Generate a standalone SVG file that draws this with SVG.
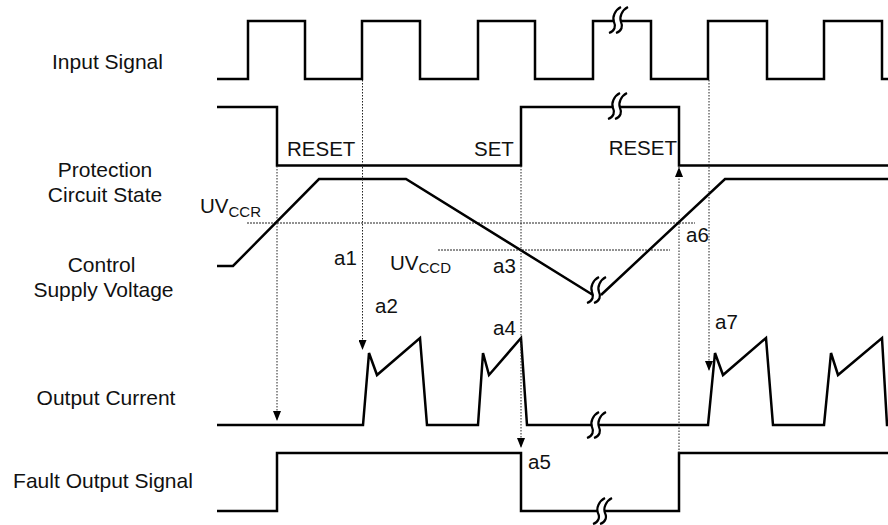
<svg xmlns="http://www.w3.org/2000/svg" xmlns:xlink="http://www.w3.org/1999/xlink" width="888" height="525" viewBox="0 0 888 525">
<style>
.wave{fill:none;stroke:#000;stroke-width:2.5;stroke-linejoin:miter}
.lbl{font-family:"Liberation Sans",Arial,sans-serif;font-size:20.5px;fill:#111}
.side{font-size:21px}
.mid{text-anchor:middle}
.sub{font-size:15px}
.dot{fill:none;stroke:#222;stroke-width:1;stroke-dasharray:1.5 1.5}
.thr{fill:none;stroke:#222;stroke-width:1;stroke-dasharray:2 1}
.brk{fill:none;stroke:#000;stroke-width:2.2}
</style>
<defs>
<marker id="ah" viewBox="0 0 10 8" refX="10" refY="4" markerWidth="10" markerHeight="8" markerUnits="userSpaceOnUse" orient="auto">
<path d="M0,0 L10,4 L0,8 Z" fill="#000"/>
</marker>
<g id="brk">
<path d="M-10,13 C-4,11 -3,6 -5,2 C-7,-3 -4,-10 2,-13 L9,-13 C3,-10 0,-3 2,2 C4,6 3,11 -3,13 Z" fill="#fff"/>
<path class="brk" d="M-10,13 C-4,11 -3,6 -5,2 C-7,-3 -4,-10 2,-13"/>
<path class="brk" d="M-3,13 C3,11 4,6 2,2 C0,-3 3,-10 9,-13"/>
</g>
</defs>
<rect width="888" height="525" fill="#fff"/>

<g id="labels">
<text class="lbl side mid" x="107.5" y="69">Input Signal</text>
<text class="lbl side mid" x="105" y="177">Protection</text>
<text class="lbl side mid" x="105" y="202">Circuit State</text>
<text class="lbl side mid" x="101.5" y="272">Control</text>
<text class="lbl side mid" x="103.5" y="297">Supply Voltage</text>
<text class="lbl side mid" x="106" y="405">Output Current</text>
<text class="lbl side mid" x="103" y="488">Fault Output Signal</text>
</g>

<g id="input-signal">
<path class="wave" d="M217,79 H248 V21 H305 V79 H362 V21 H420 V79 H478 V21 H535 V79 H593 V21 H651 V79 H708 V21 H767 V79 H824 V21 H882 V79 H888"/>
<use xlink:href="#brk" href="#brk" x="619" y="20"/>
</g>

<g id="protection-state">
<path class="wave" d="M217,107 H277 V165.5 H521 V107 H679 V165.5 H888"/>
<use xlink:href="#brk" href="#brk" x="618" y="106"/>
<text class="lbl" x="287" y="156">RESET</text>
<text class="lbl" x="474" y="156">SET</text>
<text class="lbl" x="677" y="155" text-anchor="end">RESET</text>
</g>

<g id="thresholds">
<path class="thr" d="M247,223 H695"/>
<path class="thr" d="M438,250 H670"/>
<text class="lbl" x="200" y="213">UV<tspan class="sub" dy="4">CCR</tspan></text>
<text class="lbl" x="390" y="270">UV<tspan class="sub" dy="3">CCD</tspan></text>
</g>

<g id="control-supply-voltage">
<path class="wave" d="M217,266 H233 L319,179 H406 L593,295"/>
<path class="wave" d="M601,295 L725,179 H888"/>
<use xlink:href="#brk" href="#brk" x="597" y="290"/>
</g>

<g id="output-current">
<path class="wave" d="M217,425 H363 L369,353 L377,375 L420,338 L427,425 H478 L483,353 L489,375 L521,338 L527,425 H708 L715,353 L723,375 L766,338 L773,425 H824 L831,353 L838,375 L882,338 L887,425 H888"/>
<use xlink:href="#brk" href="#brk" x="597" y="425"/>
</g>

<g id="fault-output">
<path class="wave" d="M217,511 H277 V453 H521 V511 H679 V453 H888"/>
<use xlink:href="#brk" href="#brk" x="603" y="511"/>
</g>

<g id="connectors">
<path class="dot" d="M277,166 V421" marker-end="url(#ah)"/>
<path class="dot" d="M362.5,80 V350" marker-end="url(#ah)"/>
<path class="dot" d="M521,166 V448" marker-end="url(#ah)"/>
<path class="dot" d="M679,453 V167" marker-end="url(#ah)"/>
<path class="dot" d="M709,80 V371" marker-end="url(#ah)"/>
</g>

<g id="point-labels">
<text class="lbl" x="334" y="265">a1</text>
<text class="lbl" x="375" y="313">a2</text>
<text class="lbl" x="493" y="273">a3</text>
<text class="lbl" x="493" y="335">a4</text>
<text class="lbl" x="528" y="469">a5</text>
<text class="lbl" x="686" y="242">a6</text>
<text class="lbl" x="715" y="329">a7</text>
</g>
</svg>
